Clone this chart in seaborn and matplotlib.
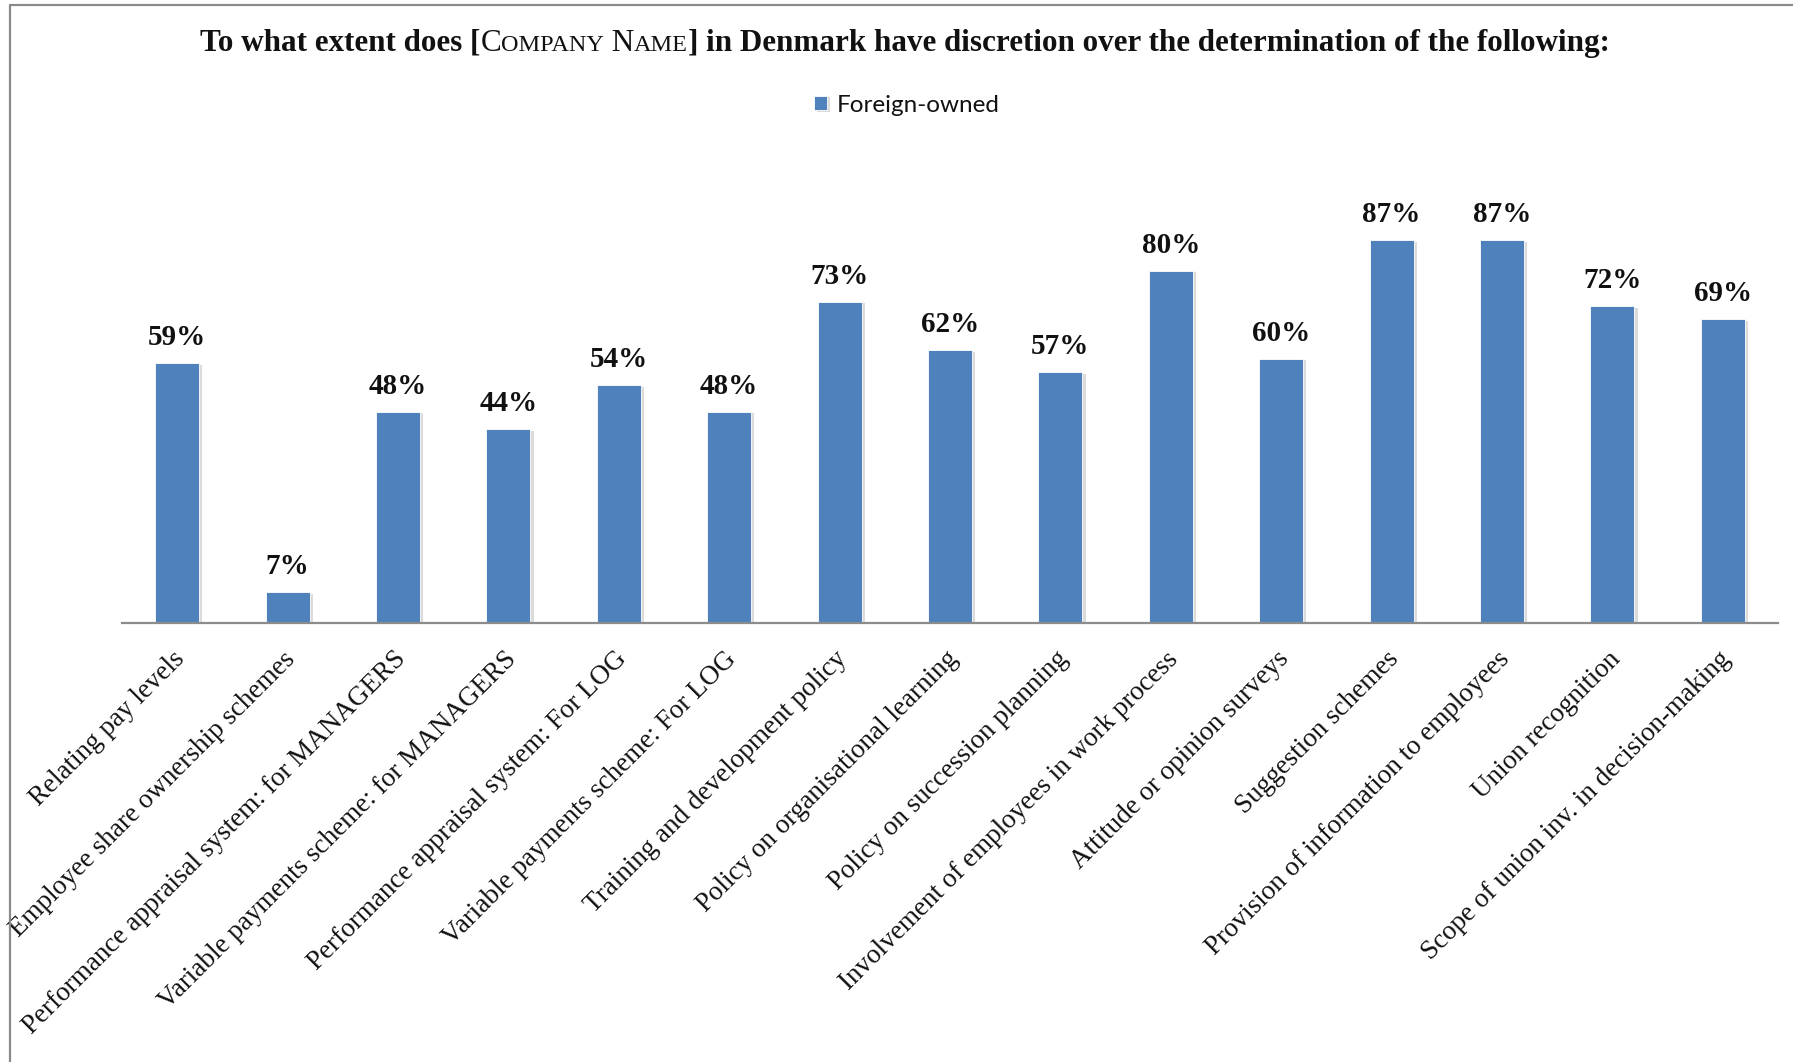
import matplotlib
matplotlib.use("Agg")
import matplotlib.pyplot as plt
import matplotlib.patheffects as pe
import matplotlib.transforms as mtransforms
from matplotlib.lines import Line2D
import seaborn as sns
import pandas as pd

# Survey items and share of foreign-owned firms with local discretion
categories = [
    "Relating pay levels",
    "Employee share ownership schemes",
    "Performance appraisal system: for MANAGERS",
    "Variable payments scheme: for MANAGERS",
    "Performance appraisal system: For LOG",
    "Variable payments scheme: For LOG",
    "Training and development policy",
    "Policy on organisational learning",
    "Policy on succession planning",
    "Involvement of employees in work process",
    "Attitude or opinion surveys",
    "Suggestion schemes",
    "Provision of information to employees",
    "Union recognition",
    "Scope of union inv. in decision-making",
]
foreign_owned = [59, 7, 48, 44, 54, 48, 73, 62, 57, 80, 60, 87, 87, 72, 69]
series_name = "Foreign-owned"

BAR_BLUE = "#4F81BD"
SERIF = ["Liberation Serif", "DejaVu Serif"]

sns.set_theme(style="white")
plt.rcParams["font.family"] = SERIF

df = pd.DataFrame({"item": categories, "pct": foreign_owned, "owner": series_name})

W, H = 1793, 1062
fig = plt.figure(figsize=(W / 100, H / 100), dpi=100)
fig.patch.set_facecolor("white")

base_px, top_px = 623, 183
ax = fig.add_axes([122 / W, (H - base_px) / H, (1778 - 122) / W, (base_px - top_px) / H])

sns.barplot(data=df, x="item", y="pct", hue="owner", palette={series_name: BAR_BLUE},
            width=0.4, ax=ax, legend=True, saturation=1)

ax.set_ylim(0, 100)
ax.set_xlim(-0.5, len(categories) - 0.5)
ax.set_xlabel("")
ax.set_ylabel("")
ax.set_yticks([])
for side in ("left", "right", "top"):
    ax.spines[side].set_visible(False)
ax.spines["bottom"].set_color("#8C8C8C")
ax.spines["bottom"].set_linewidth(1.6)

# soft drop shadow on the bars
for bar in ax.patches:
    bar.set_edgecolor("white")
    bar.set_linewidth(0.6)
    bar.set_path_effects([pe.SimplePatchShadow(offset=(2.2, -1.0), shadow_rgbFace="#9a9a9a", alpha=0.35),
                          pe.Normal()])

# value labels
for i, v in enumerate(foreign_owned):
    ax.annotate(f"{v}%", xy=(i, v), xytext=(0, 13), textcoords="offset points",
                ha="center", va="baseline", fontsize=21, fontweight="bold",
                family=SERIF, color="#111111")

ax.set_xticks(range(len(categories)))
ax.set_xticklabels(categories, rotation=45, ha="right", va="top", rotation_mode="anchor",
                   fontsize=19.5, family=SERIF, color="#111111")
ax.tick_params(axis="x", length=0, pad=17)
shift = mtransforms.ScaledTranslation(-5 / 100, 0, fig.dpi_scale_trans)
for lbl in ax.get_xticklabels():
    lbl.set_transform(lbl.get_transform() + shift)

# legend
leg = ax.legend(loc="center", bbox_to_anchor=(907 / W, 1 - 105 / H),
                bbox_transform=fig.transFigure, frameon=False, handlelength=0.55,
                handleheight=0.55, handletextpad=0.4, prop={"family": ["Lato", "DejaVu Sans"], "size": 17.5})
for t in leg.get_texts():
    t.set_color("#111111")

# title with small capitals for the placeholder
S = 22.4
pieces = [
    ("To what extent does [", "bold", S),
    ("C", "normal", S),
    ("OMPANY", "normal", S * 0.78),
    (" N", "normal", S),
    ("AME", "normal", S * 0.78),
    ("] in Denmark have discretion over the determination of the following:", "bold", S),
]
fig.canvas.draw()
renderer = fig.canvas.get_renderer()
texts = []
for s, wgt, size in pieces:
    t = fig.text(0, 1 - 51 / H, s, fontsize=size, fontweight=wgt, family=SERIF,
                 va="baseline", ha="left", color="#111111")
    texts.append(t)
widths = [t.get_window_extent(renderer).width for t in texts]
x = 905 - sum(widths) / 2
for t, w in zip(texts, widths):
    t.set_x(x / W)
    x += w

# chart frame on the left and top
frame_kw = dict(color="#8A8A8A", linewidth=1.6, transform=fig.transFigure)
fig.add_artist(Line2D([10 / W, 10 / W], [0, 1 - 5 / H], **frame_kw))
fig.add_artist(Line2D([10 / W, 1], [1 - 5 / H, 1 - 5 / H], **frame_kw))

fig.savefig("out.png", dpi=100, facecolor="white")
